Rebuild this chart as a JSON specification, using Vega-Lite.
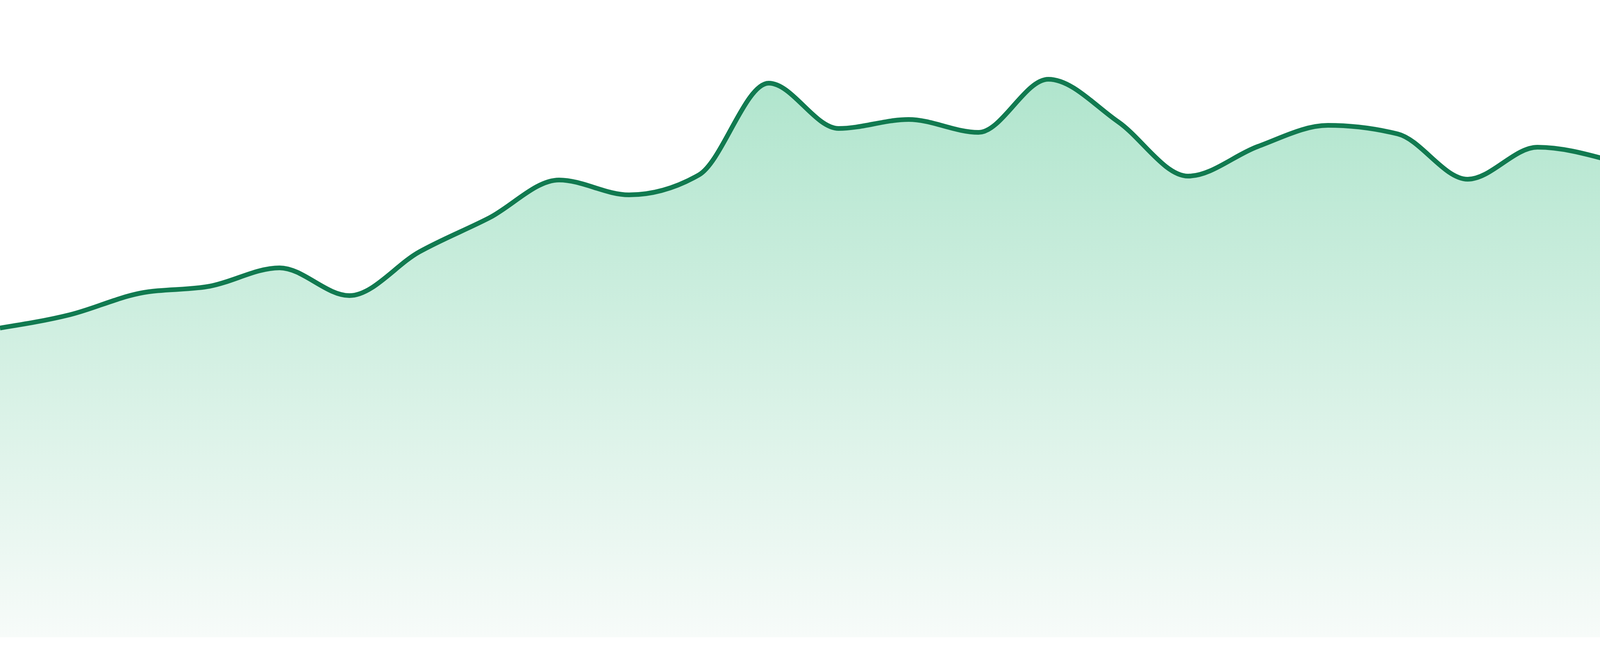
{
  "$schema": "https://vega.github.io/schema/vega-lite/v6.json",
  "width": 4115,
  "height": 1680,
  "autosize": {"type": "none"},
  "padding": 0,
  "background": "white",
  "config": {"view": {"stroke": null}},
  "data": {
    "values": [
      {"i": 0, "v": 792},
      {"i": 1, "v": 826},
      {"i": 2, "v": 881},
      {"i": 3, "v": 899},
      {"i": 4, "v": 946},
      {"i": 5, "v": 875},
      {"i": 6, "v": 987},
      {"i": 7, "v": 1074},
      {"i": 8, "v": 1171},
      {"i": 9, "v": 1133},
      {"i": 10, "v": 1184},
      {"i": 11, "v": 1419},
      {"i": 12, "v": 1303},
      {"i": 13, "v": 1326},
      {"i": 14, "v": 1293},
      {"i": 15, "v": 1429},
      {"i": 16, "v": 1320},
      {"i": 17, "v": 1181},
      {"i": 18, "v": 1257},
      {"i": 19, "v": 1311},
      {"i": 20, "v": 1289},
      {"i": 21, "v": 1173},
      {"i": 22, "v": 1255},
      {"i": 23, "v": 1223}
    ]
  },
  "encoding": {
    "x": {
      "field": "i",
      "type": "quantitative",
      "axis": null,
      "scale": {"domain": [0, 23], "nice": false, "zero": false}
    },
    "y": {
      "field": "v",
      "type": "quantitative",
      "axis": null,
      "scale": {"domain": [-48, 1632], "nice": false}
    }
  },
  "layer": [
    {
      "mark": {
        "type": "area",
        "interpolate": "monotone",
        "clip": true,
        "color": {
          "gradient": "linear",
          "x1": 0, "y1": 0, "x2": 0, "y2": 1,
          "stops": [
            {"offset": 0, "color": "#b0e5cd"},
            {"offset": 1, "color": "#f7fbf9"}
          ]
        }
      },
      "encoding": {
        "y2": {"datum": 0}
      }
    },
    {
      "mark": {
        "type": "line",
        "interpolate": "monotone",
        "clip": true,
        "color": "#117a50",
        "strokeWidth": 12
      },
      "encoding": {}
    }
  ]
}
